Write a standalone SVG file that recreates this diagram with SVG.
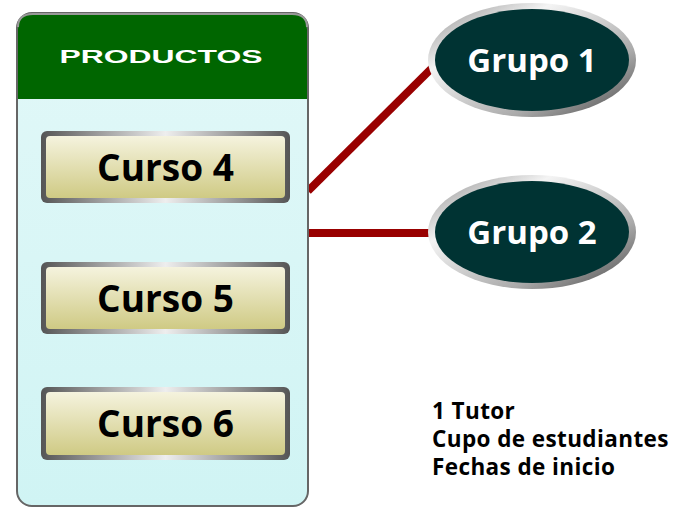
<svg xmlns="http://www.w3.org/2000/svg" width="681" height="508" viewBox="0 0 681 508">
<defs>
<style>
.curso{font-family:"Open Sans","Liberation Sans",sans-serif;font-weight:bold;font-size:37px;fill:#000;text-anchor:middle}
.grupo{font-family:"Open Sans","Liberation Sans",sans-serif;font-weight:bold;font-size:33px;fill:#fff;text-anchor:middle}
.note{font-family:"Open Sans","Liberation Sans",sans-serif;font-weight:bold;font-size:22.5px;letter-spacing:0.4px;fill:#000}
.conn{stroke:#990000;stroke-width:8;fill:none}
</style>
<linearGradient id="panelG" x1="0" y1="0" x2="0" y2="1">
<stop offset="0" stop-color="#e2f8f8"/><stop offset="1" stop-color="#d0f4f4"/>
</linearGradient>
<linearGradient id="metal" x1="0" y1="0" x2="1" y2="0">
<stop offset="0" stop-color="#555"/><stop offset="0.5" stop-color="#eee"/><stop offset="1" stop-color="#555"/>
</linearGradient>
<linearGradient id="cursoFill" x1="0" y1="0" x2="0" y2="1">
<stop offset="0" stop-color="#f5f3de"/><stop offset="1" stop-color="#cfca84"/>
</linearGradient>
<linearGradient id="ring" x1="0" y1="0" x2="1" y2="1">
<stop offset="0" stop-color="#888"/><stop offset="0.3" stop-color="#f4f4f4"/><stop offset="0.7" stop-color="#aaa"/><stop offset="1" stop-color="#444"/>
</linearGradient>
</defs>
<rect width="681" height="508" fill="#fff"/>
<g id="connectors">
<line class="conn" x1="308" y1="191" x2="434" y2="66"/>
<line class="conn" x1="308" y1="233" x2="432" y2="233"/>
</g>
<g id="productos">
<rect x="17" y="13" width="291" height="493" rx="15" fill="url(#panelG)" stroke="#666" stroke-width="2"/>
<path d="M18 99 V29 Q18 14 33 14 H292 Q307 14 307 29 V99 Z" fill="#006600"/>
<path d="M18 27 Q18 14 33 14 H292 Q307 14 307 27" fill="none" stroke="#999" stroke-width="2"/>
<text x="161" y="63" font-family="'Liberation Sans',Arial,sans-serif" font-weight="bold" font-size="19" fill="#fff" text-anchor="middle" textLength="203" lengthAdjust="spacingAndGlyphs">PRODUCTOS</text>
</g>
<g id="curso4">
<rect x="41" y="131" width="249" height="72" rx="6" fill="url(#metal)"/>
<rect x="46" y="136" width="239" height="62" rx="4" fill="url(#cursoFill)"/>
<text class="curso" x="165.5" y="181">Curso 4</text>
</g>
<g id="curso5">
<rect x="41" y="262" width="249" height="72" rx="6" fill="url(#metal)"/>
<rect x="46" y="267" width="239" height="62" rx="4" fill="url(#cursoFill)"/>
<text class="curso" x="165.5" y="312">Curso 5</text>
</g>
<g id="curso6">
<rect x="41" y="387" width="249" height="73" rx="6" fill="url(#metal)"/>
<rect x="46" y="392" width="239" height="63" rx="4" fill="url(#cursoFill)"/>
<text class="curso" x="165.5" y="437">Curso 6</text>
</g>
<g id="grupo1">
<ellipse cx="532" cy="60" rx="104" ry="57" fill="url(#ring)"/>
<ellipse cx="532" cy="60" rx="97" ry="51" fill="#003333"/>
<text class="grupo" x="532" y="72">Grupo 1</text>
</g>
<g id="grupo2">
<ellipse cx="532" cy="232" rx="104" ry="57" fill="url(#ring)"/>
<ellipse cx="532" cy="232" rx="97" ry="51" fill="#003333"/>
<text class="grupo" x="532" y="244">Grupo 2</text>
</g>
<g id="notes">
<text class="note" x="432" y="419">1 Tutor</text>
<text class="note" x="432" y="447">Cupo de estudiantes</text>
<text class="note" x="432" y="475">Fechas de inicio</text>
</g>
</svg>
